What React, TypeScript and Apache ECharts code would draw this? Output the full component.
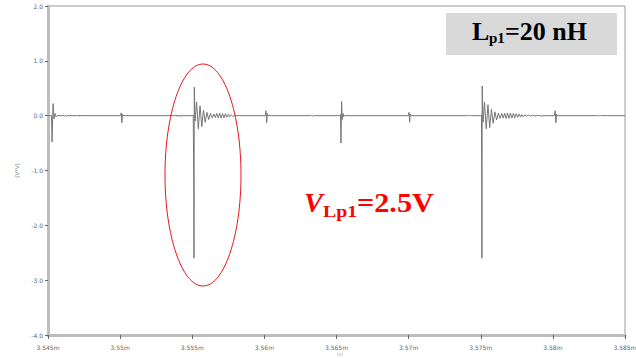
import React, { useEffect, useRef } from "react";
import * as echarts from "echarts";

// time in microseconds (labels shown as ms with "m" suffix), value in V*V
const xTicks = { min: 3545, max: 3585, step: 5 };
const yTicks = { min: -4, max: 2, step: 1 };
const xUnit = "(s)";

const startPt = [[3545.0, 0]];
const event1 = [[3545.24, 0], [3545.28, -0.48], [3545.35, 0.22], [3545.42, -0.06], [3545.49, 0.04], [3545.56, -0.02], [3545.63, 0]];
const noise1 = [[3546.0, 0], [3546.07, 0.012], [3546.14, -0.012], [3546.21, 0.01], [3546.28, -0.01], [3546.35, 0], [3547.0, 0], [3547.07, 0.01], [3547.14, -0.012], [3547.21, 0.012], [3547.28, -0.01], [3547.35, 0.01], [3547.42, 0]];
const event2 = [[3550.02, 0], [3550.08, 0.05], [3550.12, -0.13], [3550.16, 0.03], [3550.2, 0]];
const noise2 = [[3553.8, 0], [3553.87, 0.012], [3553.94, -0.012], [3554.01, 0.012], [3554.08, -0.012], [3554.15, 0]];
const event3 = [
  [3555.0, 0], [3555.07, 0.01], [3555.11, -1.45], [3555.12, -2.6], [3555.14, 0.52], [3555.2, -0.1],
  [3555.3, 0.25], [3555.42, -0.24], [3555.54, 0.18], [3555.66, -0.2], [3555.78, 0.1], [3555.9, -0.12],
  [3556.02, 0.06], [3556.14, -0.07], [3556.26, 0.04], [3556.38, -0.04], [3556.5, 0.03], [3556.6, -0.035],
  [3556.7, 0.04], [3556.8, -0.04], [3556.9, 0.045], [3557.0, -0.045], [3557.1, 0.04], [3557.2, -0.04],
  [3557.3, 0.035], [3557.4, -0.03], [3557.5, 0.025], [3557.6, -0.02], [3557.7, 0.015], [3557.8, -0.01],
  [3557.95, 0],
];
const event4 = [[3560.06, 0], [3560.11, 0.09], [3560.16, -0.13], [3560.2, 0.04], [3560.24, 0]];
const noise3 = [[3563.2, 0], [3563.27, 0.01], [3563.34, -0.01], [3563.41, 0]];
const event5 = [[3565.2, 0], [3565.28, 0.02], [3565.31, -0.5], [3565.35, 0.26], [3565.4, -0.07], [3565.45, 0.04], [3565.5, -0.02], [3565.56, 0]];
const event6 = [[3569.98, 0], [3570.03, 0.06], [3570.07, -0.12], [3570.11, 0.03], [3570.15, 0]];
const noise4 = [[3574.0, 0], [3574.07, 0.01], [3574.14, -0.01], [3574.21, 0.01], [3574.28, 0]];
const event7 = [
  [3575.0, 0], [3575.05, 0.01], [3575.07, -1.45], [3575.08, -2.6], [3575.1, 0.54], [3575.16, -0.12],
  [3575.26, 0.25], [3575.38, -0.24], [3575.5, 0.2], [3575.62, -0.22], [3575.74, 0.12], [3575.86, -0.14],
  [3575.98, 0.07], [3576.1, -0.08], [3576.22, 0.045], [3576.34, -0.05], [3576.46, 0.04], [3576.56, -0.045],
  [3576.66, 0.045], [3576.76, -0.05], [3576.86, 0.05], [3576.96, -0.05], [3577.06, 0.045], [3577.16, -0.045],
  [3577.26, 0.04], [3577.36, -0.04], [3577.46, 0.035], [3577.56, -0.03], [3577.66, 0.03], [3577.76, -0.025],
  [3577.86, 0.02], [3577.96, -0.02], [3578.06, 0.015], [3578.16, -0.012], [3578.3, 0.01], [3578.45, -0.008],
  [3578.6, 0.008], [3578.75, -0.006], [3578.95, 0.005], [3579.15, -0.004], [3579.45, 0],
];
const event8 = [[3580.1, 0], [3580.16, 0.09], [3580.21, -0.13], [3580.25, 0.03], [3580.29, 0]];
const noise5 = [[3583.1, 0], [3583.17, 0.01], [3583.24, -0.01], [3583.31, 0.01], [3583.38, 0]];
const endPt = [[3585.0, 0]];

const boxLabel = { main: "L", sub: "p1", rest: "=20 nH" };
const redLabel = { main: "V", sub: "Lp1", rest: "=2.5V" };

export default function App() {
  const ref = useRef<HTMLDivElement>(null);
  useEffect(() => {
    if (!ref.current) return;
    const chart = echarts.init(ref.current, null, { renderer: "svg" });
    const data = [
      ...startPt, ...event1, ...noise1, ...event2, ...noise2, ...event3, ...event4,
      ...noise3, ...event5, ...event6, ...noise4, ...event7, ...event8, ...noise5, ...endPt,
    ];
    const serif = '"Liberation Serif", "Times New Roman", serif';
    chart.setOption({
      animation: false,
      backgroundColor: "#ffffff",
      grid: {
        left: 48, right: 11, top: 6, bottom: 23,
        show: true, borderColor: "#9a9a9a", borderWidth: 1,
        outerBoundsMode: "none",
      },
      xAxis: {
        type: "value",
        min: xTicks.min, max: xTicks.max, interval: xTicks.step,
        axisLine: { show: true, onZero: false, lineStyle: { color: "#bdbdbd", width: 3 } },
        axisTick: { show: true, length: 4, lineStyle: { color: "#666" } },
        axisLabel: {
          fontSize: 6, color: "#666", margin: 9, fontFamily: "DejaVu Sans",
          formatter: (v: number) => `${+(v / 1000).toFixed(4)}m`,
        },
        splitLine: { show: false },
      },
      yAxis: {
        type: "value",
        min: yTicks.min, max: yTicks.max, interval: yTicks.step,
        axisLine: { show: true, lineStyle: { color: "#bdbdbd", width: 3 } },
        axisTick: { show: true, length: 3, lineStyle: { color: "#666" } },
        axisLabel: {
          fontSize: 6, color: "#666", margin: 5, fontFamily: "DejaVu Sans",
          formatter: (v: number) => v.toFixed(1),
        },
        splitLine: { show: false },
        name: "(V*V)", nameLocation: "middle", nameGap: 27, nameRotate: 90,
        nameTextStyle: { fontSize: 6, color: "#777" },
      },
      series: [
        {
          type: "line",
          data,
          showSymbol: false,
          symbol: "none",
          lineStyle: { color: "#767676", width: 1 },
          z: 2,
        },
      ],
      graphic: [
        {
          type: "text", x: 340, y: 351, z: 11,
          style: { text: xUnit, fontFamily: "DejaVu Sans", fontSize: 5, fill: "#aaa", verticalAlign: "top", align: "center" },
        },
        {
          type: "ellipse",
          shape: { cx: 203, cy: 175, rx: 38, ry: 111 },
          style: { fill: "none", stroke: "#e8141c", lineWidth: 1 },
          z: 10,
        },
        {
          type: "rect",
          shape: { x: 446, y: 13, width: 171, height: 42 },
          style: { fill: "#d9d9d9" },
          z: 10,
        },
        {
          type: "text", x: 472, y: 31, z: 11,
          style: { text: boxLabel.main, fontFamily: serif, fontWeight: "bold", fontSize: 26, fill: "#000", verticalAlign: "middle", align: "left" },
        },
        {
          type: "text", x: 489, y: 38, z: 11,
          style: { text: boxLabel.sub, fontFamily: serif, fontWeight: "bold", fontSize: 15, fill: "#000", verticalAlign: "middle", align: "left" },
        },
        {
          type: "text", x: 505, y: 31, z: 11,
          style: { text: boxLabel.rest, fontFamily: serif, fontWeight: "bold", fontSize: 26, fill: "#000", verticalAlign: "middle", align: "left" },
        },
        {
          type: "text", x: 304, y: 203, z: 11, scaleX: 1.05,
          style: { text: redLabel.main, fontFamily: serif, fontWeight: "bold", fontStyle: "italic", fontSize: 27, fill: "#ff0000", verticalAlign: "middle", align: "left" },
        },
        {
          type: "text", x: 323, y: 211, z: 11, scaleX: 1.17,
          style: { text: redLabel.sub, fontFamily: serif, fontWeight: "bold", fontSize: 17, fill: "#ff0000", verticalAlign: "middle", align: "left" },
        },
        {
          type: "text", x: 357, y: 203, z: 11, scaleX: 1.12,
          style: { text: redLabel.rest, fontFamily: serif, fontWeight: "bold", fontSize: 27, fill: "#ff0000", verticalAlign: "middle", align: "left" },
        },
      ],
    });
    return () => chart.dispose();
  }, []);
  return <div ref={ref} style={{ width: 636, height: 358, position: "absolute", left: 0, top: 0 }} />;
}
